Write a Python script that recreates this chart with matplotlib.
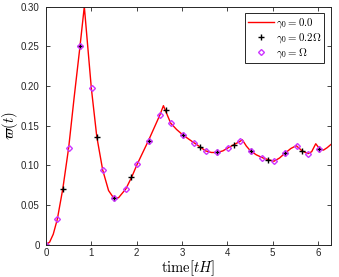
import numpy as np
import matplotlib
matplotlib.use('Agg')
import matplotlib.pyplot as plt

# red curve, gamma0 = 0.0
t_line = [0, 0.08, 0.16, 0.25, 0.37, 0.5, 0.62, 0.75, 0.845, 0.92, 1.0, 1.12, 1.25, 1.38,
          1.5, 1.6, 1.76, 1.89, 2.01, 2.26, 2.51, 2.59, 2.64, 2.75, 2.88, 3.02, 3.27, 3.40,
          3.52, 3.65, 3.77, 3.90, 4.02, 4.15, 4.28, 4.33, 4.42, 4.51, 4.64, 4.77, 4.90, 5.03,
          5.15, 5.27, 5.40, 5.52, 5.65, 5.78, 5.86, 5.95, 6.03, 6.12, 6.20, 6.283]
w_line = [0, 0.003, 0.013, 0.032, 0.070, 0.122, 0.185, 0.250, 0.300, 0.250, 0.197, 0.136,
          0.094, 0.068, 0.058, 0.059, 0.070, 0.085, 0.101, 0.131, 0.163, 0.175, 0.168, 0.153,
          0.145, 0.138, 0.128, 0.123, 0.118, 0.116, 0.116, 0.118, 0.122, 0.126, 0.130, 0.132,
          0.124, 0.118, 0.113, 0.1095, 0.107, 0.105, 0.109, 0.115, 0.121, 0.1246, 0.118,
          0.1145, 0.117, 0.127, 0.121, 0.119, 0.122, 0.126]

# black crosses, gamma0 = 0.2 Omega
t_cross = [0, 0.377, 0.754, 1.131, 1.508, 1.885, 2.262, 2.639, 3.016, 3.393, 3.770, 4.147,
           4.524, 4.901, 5.278, 5.655, 6.032]
w_cross = [0, 0.070, 0.250, 0.136, 0.058, 0.085, 0.131, 0.169, 0.138, 0.123, 0.116, 0.126,
           0.118, 0.107, 0.115, 0.118, 0.121]

# magenta diamonds, gamma0 = Omega
t_diam = [0, 0.251, 0.503, 0.754, 1.005, 1.257, 1.508, 1.759, 2.011, 2.262, 2.513, 2.765,
          3.016, 3.267, 3.519, 3.770, 4.021, 4.273, 4.524, 4.775, 5.027, 5.278, 5.529,
          5.781, 6.032]
w_diam = [0, 0.032, 0.122, 0.250, 0.197, 0.094, 0.058, 0.070, 0.101, 0.131, 0.163, 0.153,
          0.138, 0.128, 0.118, 0.116, 0.122, 0.130, 0.118, 0.1095, 0.105, 0.115, 0.1245,
          0.1145, 0.121]

yticks = [0, 0.05, 0.10, 0.15, 0.20, 0.25, 0.30]
ytick_labels = ['0', '0.05', '0.10', '0.15', '0.20', '0.25', '0.30']

matplotlib.rcParams.update({'font.size': 7, 'font.family': 'Liberation Sans',
                            'mathtext.fontset': 'cm'})

fig = plt.figure(figsize=(3.39, 2.77), dpi=100)
ax = fig.add_axes([0.1357, 0.1173, 0.8403, 0.8592])

ax.plot(t_line, w_line, color='#ff0000', lw=1.0, label=r'$\gamma_0 = 0.0$')
ax.plot(t_cross, w_cross, ls='none', marker='+', color='k', ms=5, mew=1.0,
        label=r'$\gamma_0 = 0.2\Omega$')
ax.plot(t_diam, w_diam, ls='none', marker='D', mfc='none', mec='#cc33ff', ms=3.0, mew=1.0,
        label=r'$\gamma_0 = \Omega$')

ax.set_xlim(0, 2 * np.pi)
ax.set_ylim(0, 0.30)
ax.set_xticks(range(7))
ax.set_yticks(yticks)
ax.set_yticklabels(ytick_labels)
ax.tick_params(direction='in', top=True, right=True, length=3, width=0.6,
               colors='#262626', labelcolor='#262626')
ax.tick_params(axis='y', pad=4.5)
ax.tick_params(axis='x', pad=2.5)
for s in ax.spines.values():
    s.set_color('#262626')
    s.set_linewidth(0.7)

ax.set_xlabel(r'$\mathrm{time}[tH]$', fontsize=10.5, labelpad=0)
ax.set_ylabel(r'$\varpi(t)$', fontsize=10.5)
ax.yaxis.set_label_coords(-0.09, 0.5)

leg = ax.legend(loc='upper right', fontsize=7.8, fancybox=False, framealpha=1,
                edgecolor='#262626', handlelength=2.4, handletextpad=0.15,
                borderpad=0.3, labelspacing=0.1, borderaxespad=0.6)
leg.get_frame().set_linewidth(0.7)

fig.savefig('out.png', dpi=100)
